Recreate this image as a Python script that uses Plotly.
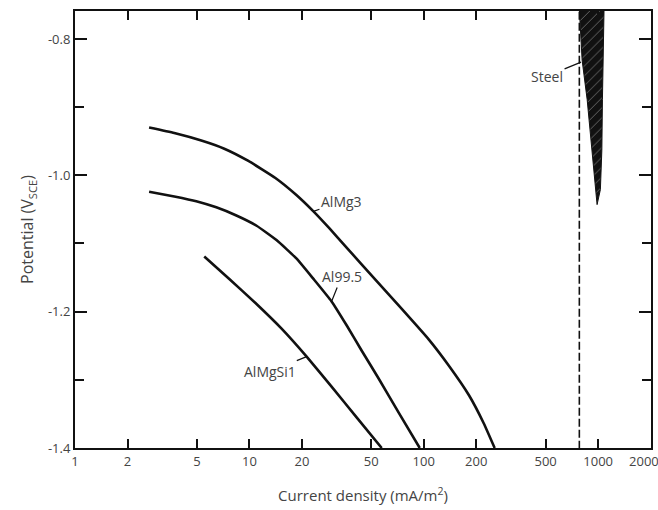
import math
import plotly.graph_objects as go

# Polarisation curves: current density (mA/m^2) vs potential (V_SCE)
almg3_i = [2.66, 3.71, 5.30, 7.18, 9.87, 14.1, 18.6, 23.3, 28.8, 36.1, 52.3, 74.8, 107, 139, 182, 221, 255]
almg3_e = [-0.930, -0.938, -0.949, -0.961, -0.979, -1.004, -1.029, -1.053, -1.078, -1.106,
           -1.152, -1.196, -1.241, -1.279, -1.323, -1.364, -1.400]

al995_i = [2.66, 3.71, 4.96, 6.46, 8.42, 11.0, 14.3, 18.6, 23.3, 29.6, 36.1, 44.0, 55.1, 71.8, 94.8]
al995_e = [-1.024, -1.031, -1.038, -1.047, -1.059, -1.074, -1.095, -1.122, -1.152, -1.185,
           -1.220, -1.257, -1.298, -1.348, -1.400]

almgsi1_i = [5.51, 7.67, 10.8, 15.3, 21.3, 29.6, 41.2, 57.4]
almgsi1_e = [-1.119, -1.152, -1.187, -1.225, -1.266, -1.310, -1.355, -1.400]

# Steel scatter band (outline of the shaded region)
steel_i = [778, 809, 865, 924, 986, 1030, 1050, 1058, 1082, 778]
steel_e = [-0.75, -0.831, -0.889, -0.963, -1.043, -1.021, -0.963, -0.889, -0.75, -0.75]

# Vertical dashed reference at the steel current density
dash_i = [780, 780]
dash_e = [-0.76, -1.40]

x_ticks = [1, 2, 5, 10, 20, 50, 100, 200, 500, 1000, 2000]
y_ticks = [-1.4, -1.2, -1.0, -0.8]
y_minor = [-1.3, -1.1, -0.9]

# Curve labels: (text, current, potential, x offset, y offset)
labels = [
    ("AlMg3", 23.3, -1.053, 28, -10),
    ("Al99.5", 29.6, -1.185, 10, -25),
    ("AlMgSi1", 21.3, -1.266, -37, 15),
    ("Steel", 798, -0.834, -34, 14),
]

ink = "#111111"
txt = "#444444"
fnt = "Open Sans, Liberation Sans, sans-serif"
fig = go.Figure()

fig.add_trace(go.Scatter(x=dash_i, y=dash_e, mode="lines",
                         line=dict(color=ink, width=1.6, dash="8px,3px")))
fig.add_trace(go.Scatter(x=steel_i, y=steel_e, mode="lines", fill="toself",
                         fillcolor=ink, line=dict(color=ink, width=1),
                         fillpattern=dict(shape="/", bgcolor=ink, fgcolor="white",
                                          size=7, solidity=0.1)))
for xs, ys in [(almg3_i, almg3_e), (al995_i, al995_e), (almgsi1_i, almgsi1_e)]:
    fig.add_trace(go.Scatter(x=xs, y=ys, mode="lines",
                             line=dict(color=ink, width=2.6, shape="spline", smoothing=0.4)))

# Log axis: annotation positions are given in log10 units
for text, xv, yv, ax, ay in labels:
    fig.add_annotation(x=math.log10(xv), y=yv, xref="x", yref="y", text=text,
                       showarrow=True, arrowhead=0, arrowwidth=1.2, arrowcolor=ink,
                       ax=ax, ay=ay, standoff=0,
                       font=dict(family=fnt, size=14, color=txt))

# Last tick label is padded so it stays inside the page edge
x_ticktext = [str(v) for v in x_ticks]
x_ticktext[-1] = x_ticktext[-1] + "&nbsp;" * 4

fig.update_layout(
    width=658, height=510,
    margin=dict(l=75, r=7, t=11, b=62),
    paper_bgcolor="white", plot_bgcolor="white",
    showlegend=False,
    font=dict(family=fnt, size=13, color=txt),
)

fig.update_xaxes(
    type="log", range=[0, math.log10(2000) + 0.002], automargin=False,
    tickmode="array", tickvals=x_ticks, ticktext=x_ticktext,
    ticks="inside", ticklen=9, tickwidth=1.5, tickcolor=ink,
    ticklabeloverflow="allow",
    showline=True, linecolor=ink, linewidth=2, mirror="ticks",
    showgrid=False, zeroline=False,
    tickfont=dict(size=13, color=txt),
    title=dict(text="Current density (mA/m<sup>2</sup>)", standoff=22,
               font=dict(size=15, color=txt)),
)

fig.update_yaxes(
    range=[-1.4, -0.759], automargin=False,
    tickmode="array", tickvals=y_ticks, ticktext=[f"{v:.1f}" for v in y_ticks],
    ticks="inside", ticklen=12, tickwidth=1.5, tickcolor=ink,
    minor=dict(tickmode="array", tickvals=y_minor, ticks="inside",
               ticklen=9, tickwidth=1.5, tickcolor=ink),
    showline=True, linecolor=ink, linewidth=2, mirror="ticks",
    showgrid=False, zeroline=False,
    tickfont=dict(size=13, color=txt),
    title=dict(text="Potential (V<sub>SCE</sub>)", standoff=10,
               font=dict(size=16, color=txt)),
)

fig.write_html("out.html")
